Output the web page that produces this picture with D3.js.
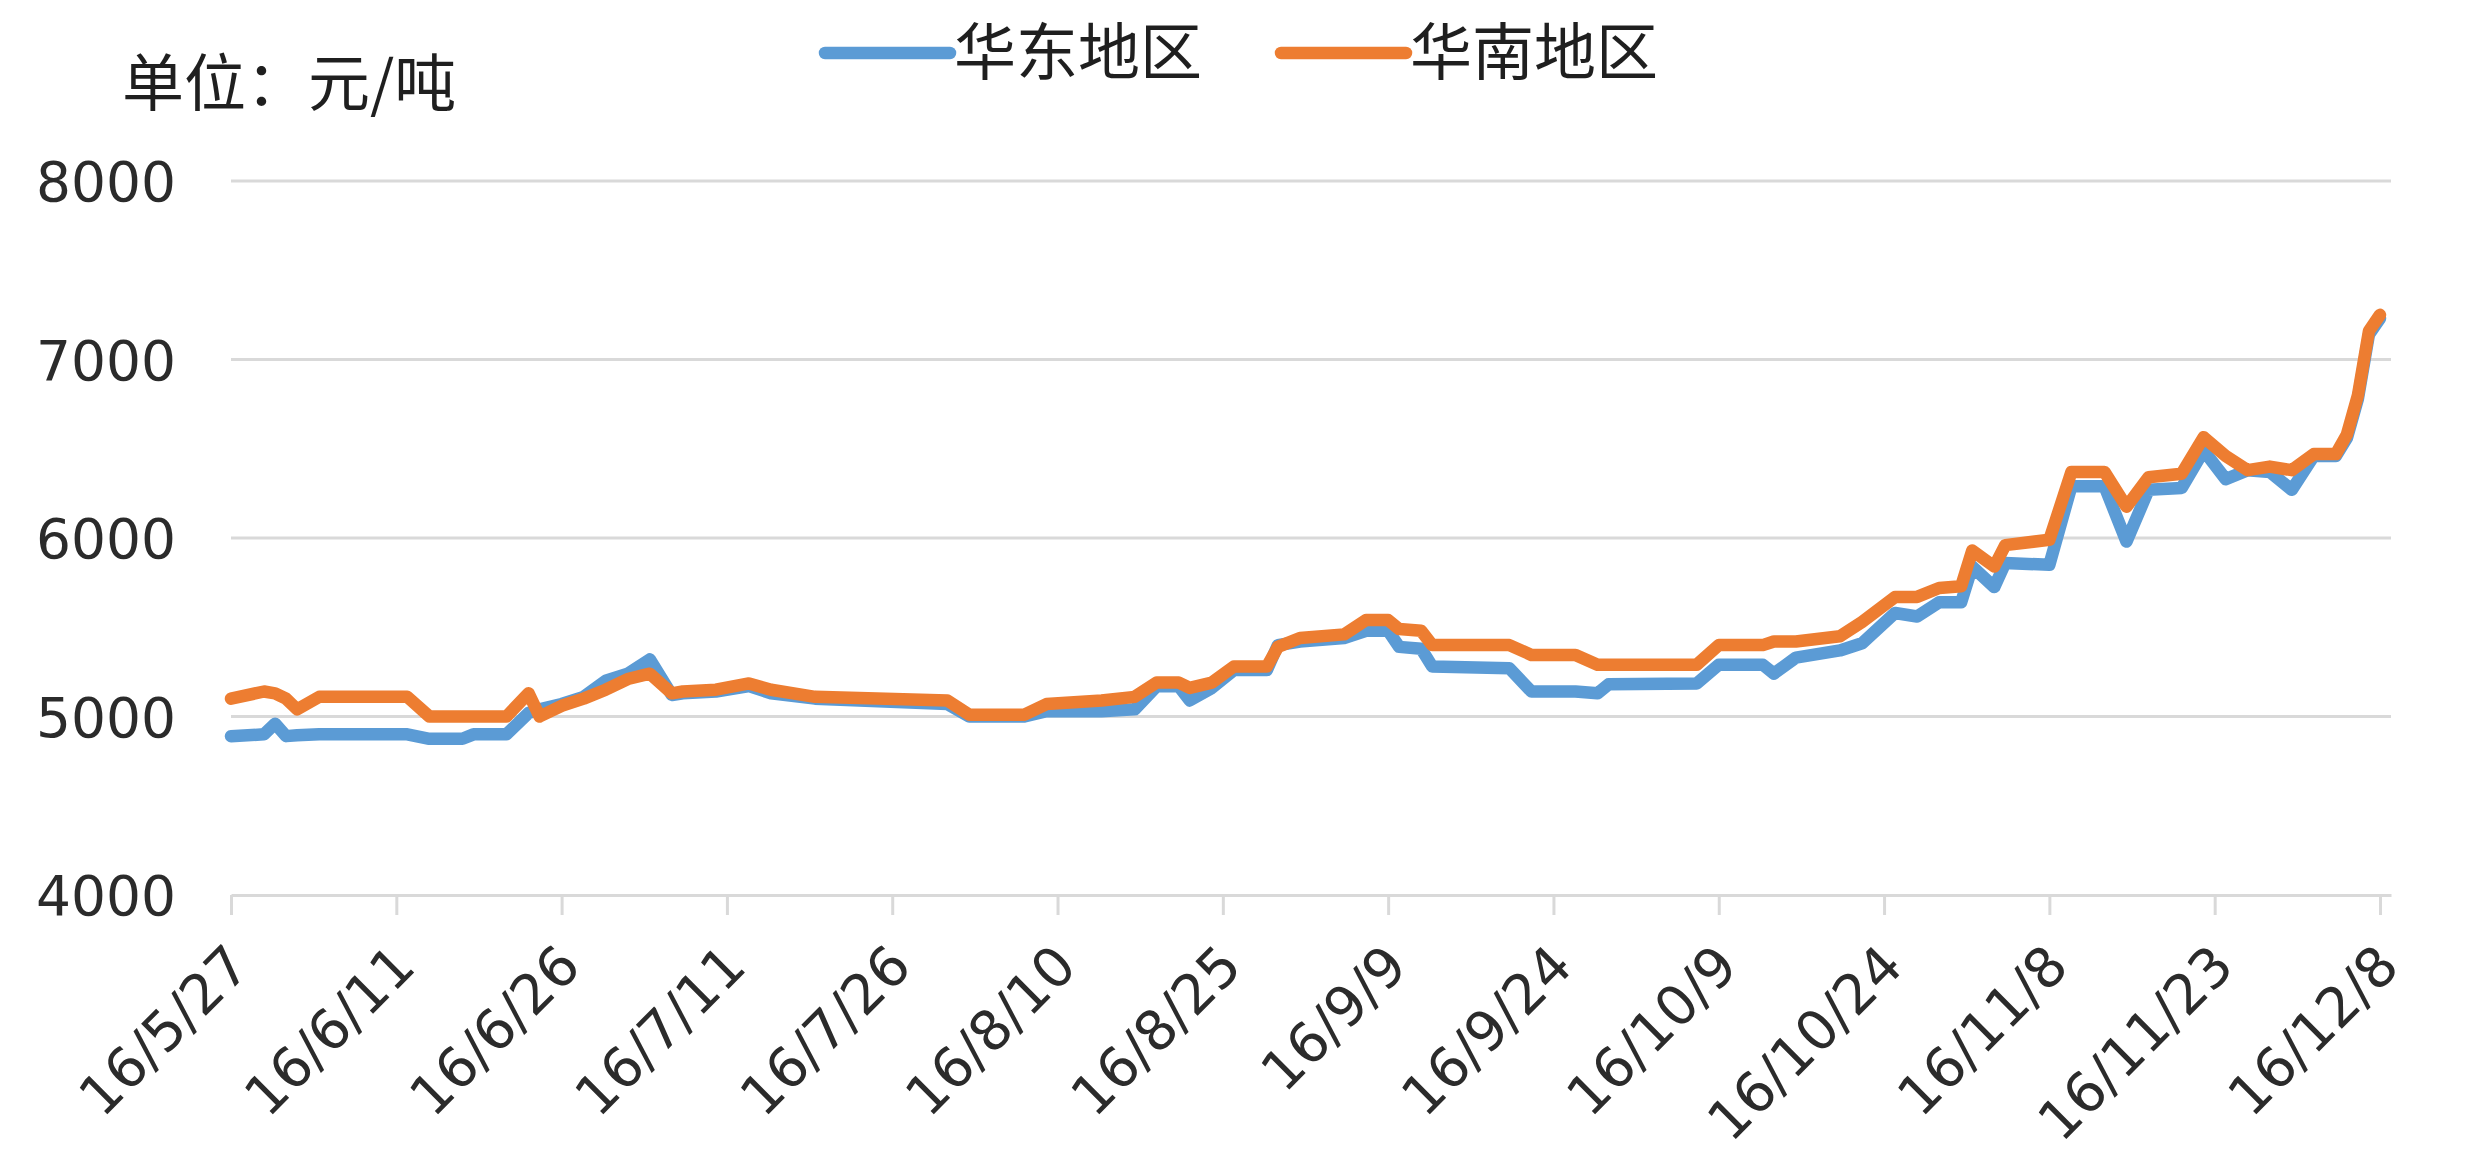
<!DOCTYPE html>
<html>
<head>
<meta charset="utf-8">
<script src="https://cdn.jsdelivr.net/npm/d3@7"></script>
<style>
  html, body { margin: 0; padding: 0; background: #fff; }
  svg { display: block; }
</style>
</head>
<body>
<svg id="chart" width="2471" height="1158"></svg>
<script>
// ---- data ----
const dates = [
  "2016-05-27","2016-05-30","2016-05-31","2016-06-01","2016-06-02","2016-06-04","2016-06-12","2016-06-14",
  "2016-06-17","2016-06-18","2016-06-21","2016-06-23","2016-06-24","2016-06-26","2016-06-28","2016-06-30",
  "2016-07-02","2016-07-04","2016-07-06","2016-07-07","2016-07-10","2016-07-13","2016-07-15","2016-07-19",
  "2016-07-31","2016-08-02","2016-08-07","2016-08-09","2016-08-14","2016-08-17","2016-08-19","2016-08-21",
  "2016-08-22","2016-08-24","2016-08-26","2016-08-29","2016-08-30","2016-09-01","2016-09-05","2016-09-07",
  "2016-09-09","2016-09-10","2016-09-12","2016-09-13","2016-09-20","2016-09-22","2016-09-26","2016-09-28",
  "2016-09-29","2016-10-07","2016-10-09","2016-10-13","2016-10-14","2016-10-16","2016-10-20","2016-10-22",
  "2016-10-25","2016-10-27","2016-10-29","2016-10-31","2016-11-01","2016-11-03","2016-11-04","2016-11-08",
  "2016-11-10","2016-11-13","2016-11-15","2016-11-17","2016-11-20","2016-11-22","2016-11-24","2016-11-26",
  "2016-11-28","2016-11-30","2016-12-02","2016-12-04","2016-12-05","2016-12-06","2016-12-07","2016-12-08"
];
// 华东地区 (blue)
const eastValues = [
  4890,4900,4960,4890,4895,4900,4900,4875,
  4875,4900,4900,5020,5040,5070,5110,5200,
  5240,5320,5120,5130,5140,5170,5130,5100,
  5070,5000,5000,5030,5030,5040,5170,5170,
  5090,5160,5260,5260,5400,5420,5440,5480,
  5480,5390,5380,5280,5270,5140,5140,5130,
  5180,5185,5290,5290,5240,5330,5370,5410,
  5580,5560,5640,5640,5840,5725,5860,5850,
  6290,6290,5980,6270,6280,6490,6330,6380,
  6370,6270,6460,6460,6560,6780,7140,7230
];
// 华南地区 (orange)
const southValues = [
  5100,5140,5130,5100,5040,5110,5110,5000,
  5000,5000,5000,5130,5000,5060,5100,5150,
  5210,5240,5130,5140,5150,5185,5150,5110,
  5090,5010,5010,5070,5090,5110,5190,5190,
  5160,5190,5280,5280,5390,5440,5460,5540,
  5540,5490,5480,5400,5400,5345,5345,5290,
  5290,5290,5400,5400,5420,5420,5450,5530,
  5670,5670,5720,5730,5930,5840,5960,5990,
  6370,6370,6175,6340,6360,6565,6460,6380,
  6400,6380,6470,6470,6580,6800,7160,7250
];
const seriesNames = ["华东地区", "华南地区"];
const seriesColors = ["#5B9BD5", "#ED7D31"];
const yTicks = [4000, 5000, 6000, 7000, 8000];
const xTickDates = ["2016-05-27","2016-06-11","2016-06-26","2016-07-11","2016-07-26","2016-08-10","2016-08-25",
                    "2016-09-09","2016-09-24","2016-10-09","2016-10-24","2016-11-08","2016-11-23","2016-12-08"];
const xTickLabels = ["16/5/27","16/6/11","16/6/26","16/7/11","16/7/26","16/8/10","16/8/25",
                     "16/9/9","16/9/24","16/10/9","16/10/24","16/11/8","16/11/23","16/12/8"];
const unitLabel = "单位：元/吨";

// ---- drawing ----
const parse = d3.utcParse("%Y-%m-%d");
const svg = d3.select("#chart");
svg.append("rect").attr("width", 2471).attr("height", 1158).attr("fill", "#fff");

const x = d3.scaleUtc()
  .domain([parse("2016-05-27"), parse("2016-12-09")])
  .range([231, 2391]);
const y = d3.scaleLinear().domain([4000, 8000]).range([895, 181]);

const tickFont = "'DejaVu Sans', sans-serif";
const cjkFont = "'Noto Sans CJK SC', 'Noto Sans', sans-serif";

// gridlines
svg.append("g").selectAll("line").data(yTicks.filter(v => v !== 4000)).join("line")
  .attr("x1", x.range()[0]).attr("x2", x.range()[1])
  .attr("y1", d => y(d)).attr("y2", d => y(d))
  .attr("stroke", "#d9d9d9").attr("stroke-width", 3);

// y axis labels
const yAxis = d3.axisLeft(y).tickValues(yTicks).tickSize(0).tickPadding(0).tickFormat(d3.format("d"));
const gy = svg.append("g").attr("transform", "translate(176,0)").call(yAxis);
gy.select(".domain").remove();
gy.selectAll("text")
  .attr("font-family", tickFont).attr("font-size", 55).attr("fill", "#2b2b2b")
  .attr("dy", "0.36em");

// x axis
const xTicks = xTickDates.map(parse);
const xAxis = d3.axisBottom(x).tickValues(xTicks).tickSize(20)
  .tickFormat((d, i) => xTickLabels[i]).tickSizeOuter(0);
const gx = svg.append("g").attr("transform", `translate(0,${y(4000)})`).call(xAxis);
gx.select(".domain").attr("stroke", "#d9d9d9").attr("stroke-width", 3);
gx.selectAll(".tick line").attr("stroke", "#d9d9d9").attr("stroke-width", 3);
gx.selectAll("text")
  .attr("font-family", tickFont).attr("font-size", 55).attr("fill", "#2b2b2b")
  .attr("text-anchor", "end")
  .attr("x", 0).attr("y", 0).attr("dy", 0)
  .attr("transform", "translate(21,74) rotate(-45)");

// lines
const series = [eastValues, southValues];
const line = d3.line()
  .x((d, i) => x(parse(dates[i])))
  .y(d => y(d));
series.forEach((vals, k) => {
  svg.append("path")
    .datum(vals)
    .attr("d", line)
    .attr("fill", "none")
    .attr("stroke", seriesColors[k])
    .attr("stroke-width", 12.5)
    .attr("stroke-linejoin", "round")
    .attr("stroke-linecap", "round");
});

// legend
const legendItems = [
  {x1: 825, x2: 950, tx: 954},
  {x1: 1281, x2: 1406, tx: 1410}
];
legendItems.forEach((p, k) => {
  svg.append("line")
    .attr("x1", p.x1).attr("x2", p.x2).attr("y1", 53).attr("y2", 53)
    .attr("stroke", seriesColors[k]).attr("stroke-width", 12.5).attr("stroke-linecap", "round");
  svg.append("text")
    .attr("x", p.tx).attr("y", 53).attr("dy", "0.36em")
    .attr("font-family", cjkFont).attr("font-size", 62).attr("fill", "#1f1f1f")
    .text(seriesNames[k]);
});

// unit label
svg.append("text")
  .attr("x", 122).attr("y", 84).attr("dy", "0.36em")
  .attr("font-family", cjkFont).attr("font-size", 62).attr("fill", "#1f1f1f")
  .text(unitLabel);
</script>
</body>
</html>
